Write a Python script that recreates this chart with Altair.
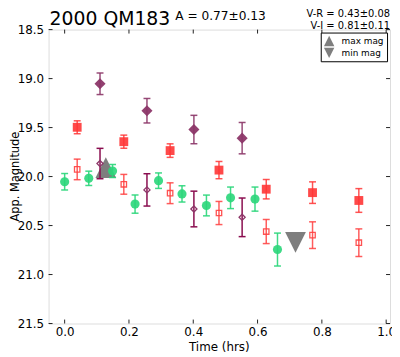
import altair as alt
import pandas as pd

# ---------------- data ----------------
x_ticks = [0.0, 0.2, 0.4, 0.6, 0.8, 1.0]
y_ticks = [18.5, 19.0, 19.5, 20.0, 20.5, 21.0, 21.5]

t_dia = [0.110, 0.256, 0.402, 0.552]
m_dia = [19.053, 19.328, 19.520, 19.608]
e_dia = [0.110, 0.125, 0.145, 0.160]

t_odia = [0.110, 0.256, 0.402, 0.552]
m_odia = [19.867, 20.136, 20.331, 20.416]
e_odia = [0.155, 0.165, 0.182, 0.197]

t_sq = [0.039, 0.184, 0.328, 0.480, 0.627, 0.771, 0.915]
m_sq = [19.497, 19.644, 19.735, 19.934, 20.129, 20.164, 20.244]
e_sq = [0.066, 0.067, 0.069, 0.088, 0.099, 0.110, 0.121]

t_osq = [0.039, 0.184, 0.328, 0.480, 0.627, 0.771, 0.915]
m_osq = [19.927, 20.079, 20.170, 20.372, 20.561, 20.598, 20.675]
e_osq = [0.105, 0.101, 0.106, 0.118, 0.123, 0.136, 0.141]

t_gr = [0.000, 0.075, 0.149, 0.219, 0.292, 0.365, 0.441, 0.516, 0.592, 0.662]
m_gr = [20.053, 20.018, 19.944, 20.281, 20.042, 20.177, 20.295, 20.217, 20.230, 20.745]
e_gr = [0.084, 0.073, 0.066, 0.093, 0.079, 0.083, 0.106, 0.110, 0.123, 0.168]

ext_t = [0.128, 0.718]
ext_m = [19.909, 20.672]
ext_lbl = ["max mag", "min mag"]

title_txt = ["2000 QM183"]
amp_txt = ["A  = 0.77\u00b10.13"]
vr_txt = ["V-R = 0.43\u00b10.08"]
vi_txt = ["V-I  = 0.81\u00b10.11"]
xtitle_txt = ["Time (hrs)"]
ytitle_txt = ["App. Magnitude"]

# ---------------- helpers ----------------
W, H = 345, 297
FONT = "DejaVu Sans"


def sdf(t, m, e):
    return pd.DataFrame({
        "t": t, "m": m,
        "lo": [a - b for a, b in zip(m, e)],
        "hi": [a + b for a, b in zip(m, e)],
    })


xs = alt.Scale(domain=[-0.05, 1.012], nice=False, zero=False)
ys = alt.Scale(domain=[18.5, 21.5], reverse=True, nice=False, zero=False)
xaxis = alt.Axis(values=x_ticks, format=".1f", title=None, ticks=False, domain=False,
                 grid=False, labelPadding=3, labelFlush=False, labelFontSize=12,
                 labelFont=FONT, labelColor="black")
yaxis = alt.Axis(values=y_ticks, format=".1f", title=None, ticks=False, domain=False,
                 grid=False, labelPadding=5, labelFlush=False, labelFontSize=12,
                 labelFont=FONT, labelColor="black")


def X(f):
    return alt.X(f, scale=xs, axis=xaxis)


def Y(f):
    return alt.Y(f, scale=ys, axis=yaxis)


def errbars(df, color, opacity=1.0):
    base = alt.Chart(df)
    rule = base.mark_rule(color=color, strokeWidth=1.5, opacity=opacity).encode(
        x=X("t:Q"), y=Y("lo:Q"), y2="hi:Q")
    cap_lo = base.mark_tick(color=color, orient="horizontal", size=7, thickness=1.5,
                            opacity=opacity).encode(x=X("t:Q"), y=Y("lo:Q"))
    cap_hi = base.mark_tick(color=color, orient="horizontal", size=7, thickness=1.5,
                            opacity=opacity).encode(x=X("t:Q"), y=Y("hi:Q"))
    return rule + cap_lo + cap_hi


def points(df, shape, color, size, filled, opacity=1.0):
    if filled:
        mk = alt.Chart(df).mark_point(shape=shape, filled=True, fill=color,
                                      strokeWidth=0, opacity=opacity)
    else:
        mk = alt.Chart(df).mark_point(shape=shape, filled=False, stroke=color,
                                      strokeWidth=1.3, opacity=opacity)
    return mk.encode(x=X("t:Q"), y=Y("m:Q"), size=alt.value(size))


d_gr = sdf(t_gr, m_gr, e_gr)
d_osq = sdf(t_osq, m_osq, e_osq)
d_sq = sdf(t_sq, m_sq, e_sq)
d_odia = sdf(t_odia, m_odia, e_odia)
d_dia = sdf(t_dia, m_dia, e_dia)

GREEN = "#2ad67a"
RED = "#ff3535"
RED_O = "#ff4040"
PURP = "#8c3668"
PURP_O = "#8a0d4f"
GRAY = "#777777"

up_path = "M0,-1L1,1L-1,1Z"
down_path = "M0,1L1,-1L-1,-1Z"

d_ext = pd.DataFrame({"t": ext_t, "m": ext_m, "label": ext_lbl})
tri = alt.Chart(d_ext).mark_point(filled=True, fill=GRAY, strokeWidth=0, opacity=0.95).encode(
    x=X("t:Q"), y=Y("m:Q"), size=alt.value(440),
    shape=alt.Shape("label:N", scale=alt.Scale(domain=ext_lbl, range=[up_path, down_path]),
                    legend=alt.Legend(title=None, orient="top-right", offset=3, padding=3,
                                      fillColor="white", strokeColor="black",
                                      labelFont=FONT, labelFontSize=9, labelColor="black",
                                      symbolSize=110, symbolFillColor=GRAY,
                                      symbolStrokeWidth=0, rowPadding=1, labelOffset=7)))

# inner frame ticks
d_xt = pd.DataFrame({"v": x_ticks})
d_yt = pd.DataFrame({"v": y_ticks})
tick_col = "#222222"
xt_bot = alt.Chart(d_xt).mark_rule(color=tick_col, strokeWidth=1).encode(
    x=alt.X("v:Q", scale=xs, axis=xaxis), y=alt.value(H), y2=alt.value(H - 4))
xt_top = alt.Chart(d_xt).mark_rule(color=tick_col, strokeWidth=1).encode(
    x=alt.X("v:Q", scale=xs, axis=xaxis), y=alt.value(0), y2=alt.value(4))
yt_l = alt.Chart(d_yt).mark_rule(color=tick_col, strokeWidth=1).encode(
    y=alt.Y("v:Q", scale=ys, axis=yaxis), x=alt.value(0), x2=alt.value(4))
yt_r = alt.Chart(d_yt).mark_rule(color=tick_col, strokeWidth=1).encode(
    y=alt.Y("v:Q", scale=ys, axis=yaxis), x=alt.value(W), x2=alt.value(W - 4))


def label(txt, x, y, size, align="left", angle=0):
    kw = dict(font=FONT, fontSize=size, align=align, baseline="alphabetic", color="black")
    if angle:
        kw["angle"] = angle
    return alt.Chart(pd.DataFrame({"s": txt})).mark_text(**kw).encode(
        text="s:N", x=alt.value(x), y=alt.value(y))


texts = (
    label(title_txt, 1, -5, 19)
    + label(amp_txt, 128, -10, 12.3)
    + label(vr_txt, W, -12.3, 10, align="right")
    + label(vi_txt, W, -1, 10, align="right")
    + label(xtitle_txt, W / 2, 325, 12, align="center")
    + label(ytitle_txt, -30.3, H / 2, 11.5, align="center", angle=270)
)

chart = alt.layer(
    xt_bot, xt_top, yt_l, yt_r,
    tri,
    errbars(d_gr, GREEN, 0.9), points(d_gr, "circle", GREEN, 85, True, 0.9),
    errbars(d_osq, RED_O, 0.85), points(d_osq, "square", RED_O, 30, False, 0.9),
    errbars(d_sq, RED, 0.85), points(d_sq, "square", RED, 80, True, 0.9),
    errbars(d_odia, PURP_O, 1.0), points(d_odia, "diamond", PURP, 38, False, 1.0),
    errbars(d_dia, PURP, 0.9), points(d_dia, "diamond", PURP, 125, True, 0.95),
    texts,
).properties(
    width=W, height=H,
    autosize=alt.AutoSizeParams(type="none"),
    padding={"left": 41, "top": 20, "right": 2, "bottom": 32},
).configure_view(
    stroke="#111111", strokeWidth=1.2
).configure(background="white")

chart.save("out.html", embed_options={"renderer": "svg", "actions": False})
